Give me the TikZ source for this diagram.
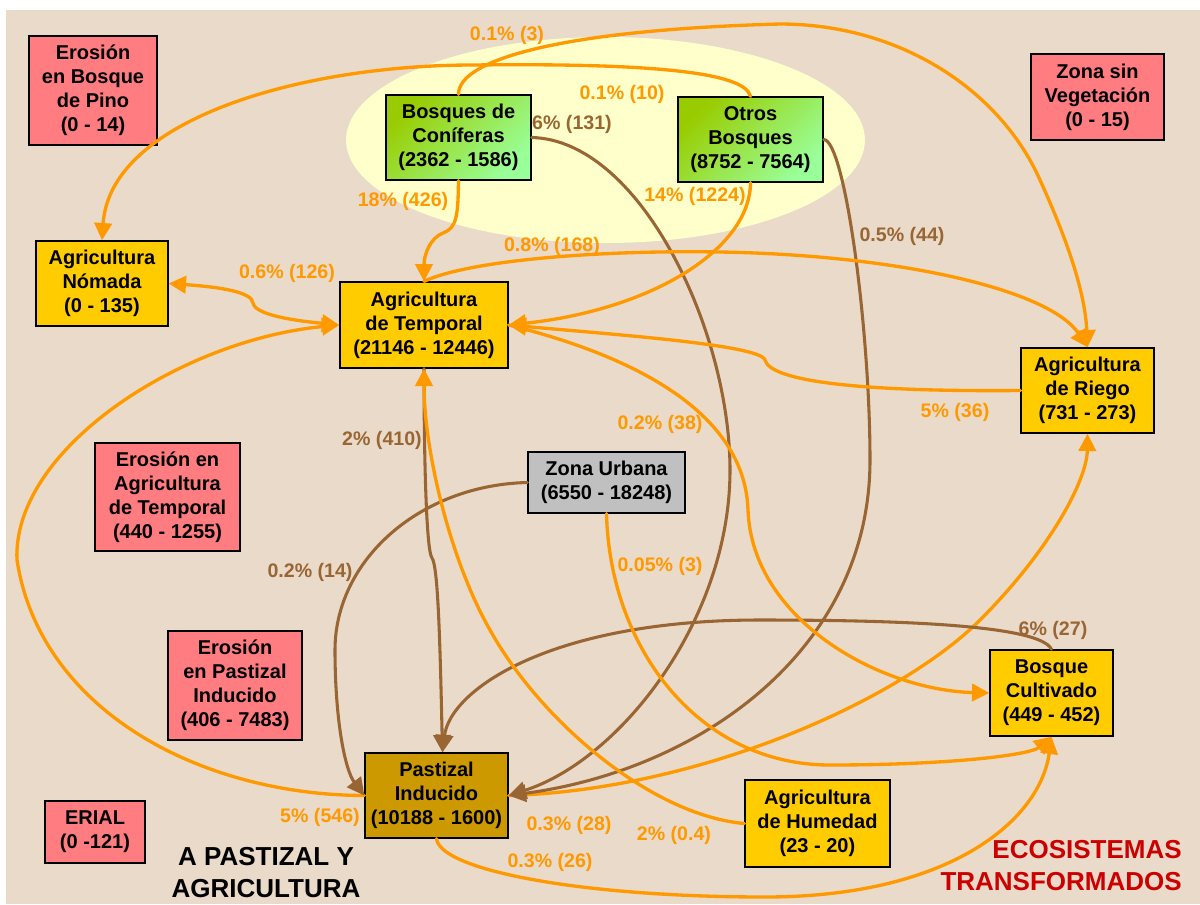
\documentclass[tikz,border=0pt]{standalone}
\usepackage{fontspec}
\setmainfont{Liberation Sans}
\usetikzlibrary{arrows.meta,calc,shapes.geometric}
\definecolor{bgc}{RGB}{234,218,202}
\definecolor{ellc}{RGB}{255,255,204}
\definecolor{pinkc}{RGB}{255,124,128}
\definecolor{yelc}{RGB}{255,204,0}
\definecolor{gA}{RGB}{153,204,0}
\definecolor{gB}{RGB}{153,255,153}
\definecolor{pastc}{RGB}{204,153,0}
\definecolor{grayc}{RGB}{192,192,192}
\definecolor{orc}{RGB}{255,153,0}
\definecolor{brc}{RGB}{153,102,51}
\definecolor{redc}{RGB}{204,0,0}
\tikzset{
  box/.style={draw=black, line width=1pt, inner sep=0pt, align=center,
    font=\bfseries\fontsize{15}{18}\selectfont},
  pinkbox/.style={box, fill=pinkc},
  yelbox/.style={box, fill=yelc},
  greenbox/.style={box, top color=gA, bottom color=gB, shading angle=45},
  oe/.style={draw=orc, line width=2.5pt, line cap=round, -{Triangle[length=13pt,width=13pt]}},
  oe2/.style={draw=orc, line width=2.5pt, line cap=round, {Triangle[length=13pt,width=13pt]}-{Triangle[length=13pt,width=13pt]}},
  be/.style={draw=brc, line width=2.3pt, line cap=round, -{Triangle[length=13pt,width=13pt]}},
  lab/.style={inner sep=0pt, font=\bfseries\fontsize{14.7}{17}\selectfont},
  olab/.style={lab, text=orc},
  blab/.style={lab, text=brc},
  big/.style={inner sep=0pt, font=\bfseries\fontsize{19.5}{23.5}\selectfont}
}
\begin{document}
\begin{tikzpicture}[x=0.75pt,y=-0.75pt]
\useasboundingbox (0,0) rectangle (1200,904);
\fill[bgc] (6,10) rectangle (1200,904);
\fill[ellc] (605.5,140) ellipse [x radius=194.6pt, y radius=77.25pt];

% nodes
\node[pinkbox, minimum width=96pt, minimum height=81.75pt] (epino) at (93,90.5) {Erosión\\en Bosque\\de Pino\\(0 - 14)};
\node[greenbox, minimum width=108.75pt, minimum height=63.75pt] (conif) at (458.5,137.5) {Bosques de\\Coníferas\\(2362 - 1586)};
\node[greenbox, minimum width=108.75pt, minimum height=63.75pt] (otros) at (750.5,139.5) {Otros\\Bosques\\(8752 - 7564)};
\node[pinkbox, minimum width=99.75pt, minimum height=64.5pt] (zsv) at (1097.5,97) {Zona sin\\Vegetación\\(0 - 15)};
\node[yelbox, minimum width=99pt, minimum height=63.75pt] (nomada) at (102,283.5) {Agricultura\\Nómada\\(0 - 135)};
\node[yelbox, minimum width=126pt, minimum height=64.5pt] (temporal) at (424,325) {Agricultura\\de Temporal\\(21146 - 12446)};
\node[yelbox, minimum width=99.75pt, minimum height=63.75pt] (riego) at (1087.5,390.5) {Agricultura\\de Riego\\(731 - 273)};
\node[pinkbox, minimum width=108.75pt, minimum height=81pt] (eat) at (167.5,497) {Erosión en\\Agricultura\\de Temporal\\(440 - 1255)};
\node[box, fill=grayc, minimum width=117.75pt, minimum height=45.75pt] (urbana) at (606.5,482.5) {Zona Urbana\\(6550 - 18248)};
\node[pinkbox, minimum width=100.5pt, minimum height=81.75pt] (epi) at (235,685.5) {Erosión\\en Pastizal\\Inducido\\(406 - 7483)};
\node[yelbox, minimum width=92.25pt, minimum height=64.5pt] (bcult) at (1051.5,693) {Bosque\\Cultivado\\(449 - 452)};
\node[box, fill=pastc, minimum width=107.25pt, minimum height=63.75pt] (pastizal) at (436.5,795.5) {Pastizal\\Inducido\\(10188 - 1600)};
\node[yelbox, minimum width=108.75pt, minimum height=65.25pt] (humedad) at (817.5,823.5) {Agricultura\\de Humedad\\(23 - 20)};
\node[pinkbox, minimum width=75pt, minimum height=46.5pt] (erial) at (95,832) {ERIAL\\(0 -121)};

\coordinate (pN) at ($(pastizal.north)+(6,0)$);

% connectors
\draw[oe] (pastizal.west) .. controls (200,795) and (40,710) .. (17,560) .. controls (12,450) and (180,340) .. (temporal.west);
\draw[oe] (pastizal.east) .. controls (700,790) and (900,700) .. (980,620) .. controls (1050,550) and (1087,480) .. (riego.south);
\draw[be] (conif.east) .. controls (640,140) and (730,330) .. (730,470) .. controls (730,620) and (620,760) .. (pastizal.east);
\draw[be] (otros.east) .. controls (845,140) and (870,330) .. (870,460) .. controls (870,650) and (700,770) .. (pastizal.east);
\draw[be] (temporal.south) .. controls (424,450) and (426,550) .. (432,558) .. controls (438,566) and (440,640) .. (pN);
\draw[be] (urbana.west) .. controls (420,485) and (335,560) .. (335,650) .. controls (335,720) and (345,770) .. (pastizal.west);
\draw[be] (bcult.north) .. controls (1040,625) and (900,620) .. (760,620) .. controls (550,620) and (450,690) .. (pN);
\draw[oe] (otros.north) .. controls (745,72) and (650,63) .. (473,65) .. controls (300,65) and (110,120) .. (nomada.north);
\draw[oe] (conif.north) .. controls (458,60) and (560,30) .. (780,24) .. controls (900,24) and (1000,90) .. (1040,180) .. controls (1065,235) and (1085,290) .. (riego.north);
\draw[oe] (conif.south) .. controls (458,215) and (457,228) .. (443,233) .. controls (430,238) and (424,255) .. (temporal.north);
\draw[oe] (otros.south) .. controls (750,250) and (650,310) .. (temporal.east);
\draw[oe] (temporal.north) .. controls (470,260) and (600,250) .. (720,252) .. controls (900,255) and (1050,290) .. (riego.north);
\draw[oe] (riego.west) .. controls (850,392) and (770,380) .. (765,360) .. controls (760,345) and (620,335) .. (temporal.east);
\draw[oe2] (nomada.east) .. controls (220,287) and (252,292) .. (253,303) .. controls (255,318) and (320,323) .. (temporal.west);
\draw[oe] (humedad.west) .. controls (650,815) and (540,720) .. (490,630) .. controls (450,560) and (424,450) .. (temporal.south);
\draw[oe] (urbana.south) .. controls (610,650) and (700,765) .. (830,765) .. controls (950,765) and (1030,755) .. (bcult.south);
\draw[oe] (temporal.east) .. controls (650,360) and (745,420) .. (748,510) .. controls (752,620) and (880,690) .. (bcult.west);
\draw[oe] (pastizal.south) .. controls (440,870) and (580,897) .. (765,897) .. controls (950,897) and (1040,820) .. (bcult.south);

% labels
\node[olab] (l1) at (507,35) {0.1\% (3)};
\node[olab] (l2) at (622,94) {0.1\% (10)};
\node[blab] (l3) at (572,124) {6\% (131)};
\node[olab] (l4) at (403,201) {18\% (426)};
\node[olab] (l5) at (695,196) {14\% (1224)};
\node[olab] (l6) at (552,246) {0.8\% (168)};
\node[blab] (l7) at (902,236) {0.5\% (44)};
\node[olab] (l8) at (287,273) {0.6\% (126)};
\node[olab] (l9) at (955,412) {5\% (36)};
\node[olab] (l10) at (660,424) {0.2\% (38)};
\node[blab] (l11) at (382,440) {2\% (410)};
\node[blab] (l12) at (310,572) {0.2\% (14)};
\node[olab] (l13) at (660,566) {0.05\% (3)};
\node[blab] (l14) at (1053,630) {6\% (27)};
\node[olab] (l15) at (320,817) {5\% (546)};
\node[olab] (l16) at (569,825) {0.3\% (28)};
\node[olab] (l17) at (674,835) {2\% (0.4)};
\node[olab] (l18) at (550,862) {0.3\% (26)};

\node[big, align=center] (apa) at (266,872.5) {A PASTIZAL Y\\AGRICULTURA};
\node[big, align=right, anchor=east, text=redc, font=\bfseries\fontsize{19.5}{24}\selectfont] (eco) at (1182,866) {ECOSISTEMAS\\TRANSFORMADOS};
\end{tikzpicture}
\end{document}
